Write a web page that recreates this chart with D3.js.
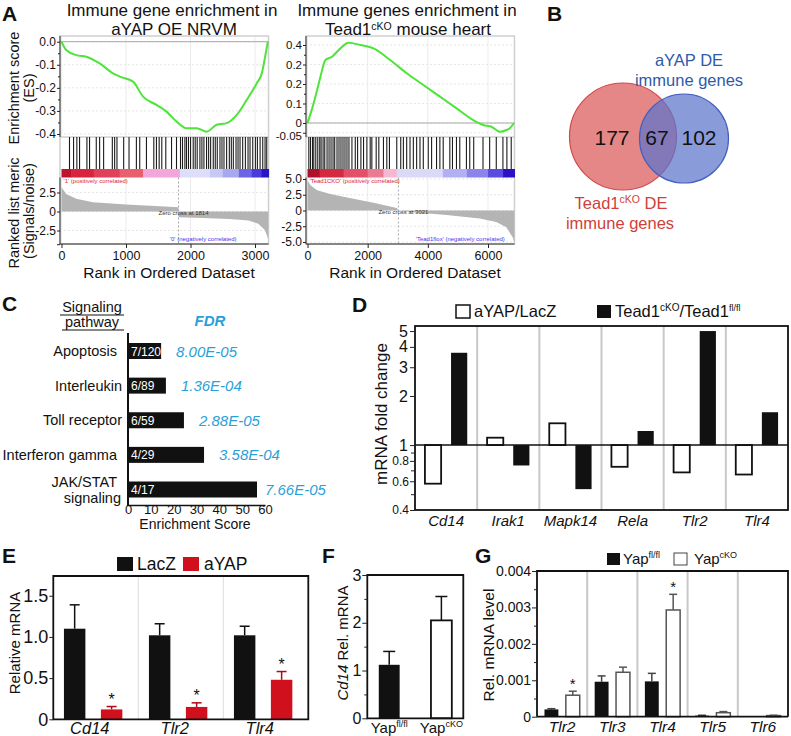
<!DOCTYPE html>
<html lang="en">
<head>
<meta charset="utf-8">
<title>Immune genes figure</title>
<script src="https://d3js.org/d3.v7.min.js"></script>
<style>
  html, body { margin: 0; padding: 0; background: #fff; }
  svg { display: block; }
  text { font-family: "Liberation Sans", Arial, sans-serif; fill: #111; }
</style>
</head>
<body>
<script>

// ---------- A: GSEA, aYAP OE NRVM ----------
var esLeftRank = [0,73,228,384,591,798,902,1109,1264,1472,1628,1783,1939,2095,2250,2406,2561,2717,2872,3028,3106,3157,3199];
var esLeftScore = [0,-0.036,-0.058,-0.065,-0.094,-0.137,-0.151,-0.173,-0.238,-0.274,-0.303,-0.346,-0.375,-0.375,-0.39,-0.36,-0.353,-0.317,-0.252,-0.18,-0.137,-0.065,0];
var hitsLeft = [124,187,238,280,394,435,539,591,653,788,824,860,964,1047,1161,1213,1317,1431,1472,1514,1555,1617,1706,1783,
  1845,1876,1913,1938,1969,2001,2042,2073,2104,2146,2177,2208,2249,2281,2312,2353,2384,2415,2457,2488,2519,2560,2602,2633,
  2664,2706,2737,2768,2809,2851,2892,2923,2965,3006,3037,3079,3120,3156,3182];
var metricLeftRank = [0,73,228,487,1005,1524,1814,1815,2200,2600,2900,3050,3150,3205];
var metricLeftValue = [3.2,2.3,1.67,1.22,0.92,0.7,0.57,-0.75,-0.85,-1.0,-1.2,-1.6,-2.4,-3.6];
var barLeftStart = [0,150,500,900,1264,1835,2300,2500,2750,2950,3100];
var barLeftColor = ["#c0142e","#d8243c","#e0405a","#e8606e","#f2a6da","#dedefa","#c8c8f6","#a8a8f0","#6a64e6","#4a3adc","#2a14c8"];

// ---------- A: GSEA, Tead1 cKO heart ----------
var esRightRank = [0,156,321,430,596,818,1036,1368,1755,2197,2748,3300,3851,4404,4957,5508,5838,6115,6391,6612,6722,6864];
var esRightScore = [0,0.075,0.17,0.237,0.323,0.34,0.374,0.412,0.4,0.383,0.323,0.255,0.195,0.135,0.075,0.015,-0.01,-0.019,-0.045,-0.036,-0.027,0];
var hitsRight = [44,99,165,209,275,341,407,452,518,573,650,716,782,849,904,981,1047,1113,1180,1246,1312,1378,1477,1588,1665,
  1775,1863,1974,2084,2139,2283,2371,2525,2636,2724,2967,3099,3187,3297,3408,3518,3628,3739,3849,4014,4125,4290,4400,4511,
  4731,4819,4952,5062,5283,5393,5525,5834,6055,6275,6496,6628,6772];
var metricRightRank = [0,99,320,761,1314,2195,2968,3021,3520,4623,5725,6278,6609,6830,6875];
var metricRightValue = [4.8,4.0,3.2,2.6,2.07,1.23,0.4,0,-0.27,-0.72,-1.27,-1.83,-2.67,-4.33,-5.2];
var barRightStart = [0,400,1200,2000,2525,2967,4500,5300,6000,6500];
var barRightColor = ["#b0102a","#d42a40","#e4506a","#ec7a90","#f6b8d0","#dadaf8","#b0b0f2","#8a84ec","#5a4ce0","#2c10c4"];

// ---------- B: Venn ----------
var vennOnlyTead = 177, vennBoth = 67, vennOnlyYap = 102;

// ---------- C: pathways ----------
var cTerms = ["Apoptosis","Interleukin","Toll receptor","Interferon gamma","JAK/STAT signaling"];
var cScore = [14.5, 16.6, 24.5, 33.3, 56.5];
var cRatio = ["7/120","6/89","6/59","4/29","4/17"];
var cFdr = ["8.00E-05","1.36E-04","2.88E-05","3.58E-04","7.66E-05"];
var cTicks = [0,10,20,30,40,50,60];

// ---------- D: fold change ----------
var dCats = ["Cd14","Irak1","Mapk14","Rela","Tlr2","Tlr4"];
var dAyap = [0.58, 1.11, 1.36, 0.736, 0.68, 0.66];
var dTead = [3.68, 0.75, 0.537, 1.22, 5.0, 1.59];
var dMajor = [5,4,3,2,1];
var dSmall = [0.8,0.6,0.4];
var dMinor = [0.9,0.7,0.5];

// ---------- E ----------
var eCats = ["Cd14","Tlr2","Tlr4"];
var eLacZ = [1.10, 1.02, 1.02];
var eLacZErr = [0.29, 0.14, 0.11];
var eAyap = [0.12, 0.15, 0.48];
var eAyapErr = [0.035, 0.05, 0.1];
var eTicks = [0, 0.5, 1.0, 1.5];
var eTickLabels = ["0","0.5","1.0","1.5"];

// ---------- F ----------
var fVals = [1.12, 2.05];
var fErr = [0.28, 0.5];
var fTicks = [0,1,2,3];

// ---------- G ----------
var gCats = ["Tlr2","Tlr3","Tlr4","Tlr5","Tlr6"];
var gFl = [0.00020, 0.00096, 0.00097, 0.00003, 0.00001];
var gFlErr = [0.00002, 0.00016, 0.00022, 0.00001, 0];
var gCko = [0.00059, 0.00122, 0.00293, 0.00011, 0.00003];
var gCkoErr = [0.00011, 0.00014, 0.00043, 0.00003, 0.00001];
var gStar = [true, false, true, false, false];
var gTicks = [0, 0.001, 0.002, 0.003, 0.004];

var svg = d3.select("body").append("svg").attr("width", 791).attr("height", 736);

function txt(x, y, s, size, opts) {
  opts = opts || {};
  return svg.append("text").attr("x", x).attr("y", y).text(s)
    .attr("font-size", size)
    .attr("text-anchor", opts.anchor || "start")
    .attr("font-weight", opts.bold ? "bold" : null)
    .attr("font-style", opts.italic ? "italic" : null)
    .style("fill", opts.fill || "#111");
}

function styleAxis(g, size) {
  g.select(".domain").remove();
  g.selectAll("line").attr("stroke", "#222");
  g.selectAll("text").attr("font-size", size).style("fill", "#111")
    .attr("font-family", '"Liberation Sans", Arial, sans-serif');
}

// panel letters
[["A",2,21],["B",547,21],["C",2,311],["D",352,312],["E",2,563],["F",322,563],["G",475,563]].forEach(function(p) {
  txt(p[1], p[2], p[0], 21, {bold: true});
});

// ================= A =================
var topY = 36, esBot = 137, hitBot = 169, barBot = 177.5, botY = 244;

function drawGsea(c) {
  var x = d3.scaleLinear().domain([0, c.tickMax]).range([c.x0, c.xTickMax]);
  var xEnd = x(c.maxRank);
  var axisX = c.x0 - 1.5;
  var yEs = d3.scaleLinear().domain(c.esDomain).range(c.esRange);
  var yM = d3.scaleLinear().domain(c.mDomain).range(c.mRange);
  var g = svg.append("g");

  [[topY, esBot], [barBot, botY]].forEach(function(r) {
    g.selectAll(null).data(c.xTicks).enter().append("line")
      .attr("x1", d => x(d)).attr("x2", d => x(d))
      .attr("y1", r[0]).attr("y2", r[1]).attr("stroke", "#ebebeb");
  });
  g.selectAll(null).data(c.esTicks).enter().append("line")
    .attr("x1", axisX).attr("x2", xEnd).attr("y1", d => yEs(d)).attr("y2", d => yEs(d))
    .attr("stroke", "#e6e6e6").attr("stroke-dasharray", "2,2");
  g.selectAll(null).data(c.mTicks).enter().append("line")
    .attr("x1", axisX).attr("x2", xEnd).attr("y1", d => yM(d)).attr("y2", d => yM(d))
    .attr("stroke", "#e6e6e6").attr("stroke-dasharray", "2,2");

  g.append("rect").attr("x", axisX).attr("y", topY).attr("width", xEnd - axisX).attr("height", botY - topY)
    .attr("fill", "none").attr("stroke", "#cfcfcf").attr("stroke-width", 1.5);
  g.append("line").attr("x1", axisX).attr("x2", xEnd).attr("y1", esBot).attr("y2", esBot).attr("stroke", "#b8b8b8");
  g.append("line").attr("x1", axisX).attr("x2", xEnd).attr("y1", yEs(0)).attr("y2", yEs(0)).attr("stroke", "#a8a8a8");

  g.selectAll(null).data(c.barStart).enter().append("rect")
    .attr("x", d => x(d))
    .attr("width", (d, i) => x(i < c.barStart.length - 1 ? c.barStart[i + 1] : c.maxRank) - x(d) + 0.5)
    .attr("y", hitBot).attr("height", barBot - hitBot)
    .attr("fill", (d, i) => c.barColor[i]);

  g.selectAll(null).data(c.hits).enter().append("line")
    .attr("x1", d => x(d)).attr("x2", d => x(d)).attr("y1", esBot).attr("y2", hitBot)
    .attr("stroke", "#1c1c1c").attr("stroke-width", 1.1);

  var area = d3.area().x((d, i) => x(c.mRank[i])).y0(yM(0)).y1(d => yM(d));
  g.append("path").attr("d", area(c.mValue)).attr("fill", "#b4b4b4");

  g.append("line").attr("x1", x(c.zero)).attr("x2", x(c.zero)).attr("y1", barBot).attr("y2", botY)
    .attr("stroke", "#aaa").attr("stroke-dasharray", "2,2");

  var line = d3.line().x((d, i) => x(c.esRank[i])).y(d => yEs(d)).curve(d3.curveMonotoneX);
  g.append("path").attr("d", line(c.esScore)).attr("fill", "none")
    .attr("stroke", "#4ee43a").attr("stroke-width", 2);

  // axes
  g.append("line").attr("x1", axisX).attr("x2", axisX).attr("y1", topY).attr("y2", esBot).attr("stroke", "#333");
  g.append("line").attr("x1", axisX).attr("x2", axisX).attr("y1", barBot).attr("y2", botY).attr("stroke", "#333");
  g.append("line").attr("x1", axisX).attr("x2", xEnd).attr("y1", botY).attr("y2", botY).attr("stroke", "#333");

  var ax = g.append("g").attr("transform", "translate(" + axisX + ",0)")
    .call(d3.axisLeft(yEs).tickValues(c.esTicks).tickFormat((d, i) => c.esLabels[i]).tickSize(3).tickPadding(1));
  styleAxis(ax, c.esFont);
  ax.selectAll("text").filter(d => d < 0 && c.nudgeLast && d === c.esTicks[c.esTicks.length - 1]).attr("dy", "0.62em");
  var axm = g.append("g").attr("transform", "translate(" + axisX + ",0)")
    .call(d3.axisLeft(yEs).tickValues(c.esMinor).tickFormat("").tickSize(2));
  styleAxis(axm, 1);
  var ay = g.append("g").attr("transform", "translate(" + axisX + ",0)")
    .call(d3.axisLeft(yM).tickValues(c.mTicks).tickFormat((d, i) => c.mLabels[i]).tickSize(3).tickPadding(1));
  styleAxis(ay, 12);
  var axb = g.append("g").attr("transform", "translate(0," + botY + ")")
    .call(d3.axisBottom(x).tickValues(c.xTicks).tickFormat(d3.format("d")).tickSize(4).tickPadding(3));
  styleAxis(axb, 12.5);

  g.append("text").attr("x", x(0) + 2).attr("y", hitBot + 14).text(c.posText)
    .attr("font-size", 6).style("fill", "#e0203a");
  g.append("text").attr("x", x(c.zero) - 20).attr("y", yM(0) + 3).text("Zero cross at " + c.zero)
    .attr("font-size", 6).style("fill", "#333");
  g.append("text").attr("x", x(c.negX)).attr("y", botY - 3).text(c.negText)
    .attr("font-size", 6).style("fill", "#5030e8");

  txt((x(0) + xEnd) / 2 + 4, 278, "Rank in Ordered Dataset", 15.5, {anchor: "middle"});
}

drawGsea({
  tickMax: 3000, x0: 61.5, xTickMax: 255, maxRank: 3210, xTicks: [0,1000,2000,3000],
  esDomain: [-0.4, 0], esRange: [134, 41.7], esTicks: [0,-0.1,-0.2,-0.3,-0.4],
  esLabels: ["0.0","-0.1","-0.2","-0.3","-0.4"], esMinor: [-0.05,-0.15,-0.25,-0.35], esFont: 12, nudgeLast: false,
  mDomain: [-2.5, 2.5], mRange: [230.5, 192.5], mTicks: [2.5,0,-2.5,-4.3], mLabels: ["2.5","0","-2.5",""],
  esRank: esLeftRank, esScore: esLeftScore, hits: hitsLeft, mRank: metricLeftRank, mValue: metricLeftValue,
  barStart: barLeftStart, barColor: barLeftColor, zero: 1814, negX: 1680,
  posText: "'1' (positively correlated)", negText: "'0' (negatively correlated)"
});

drawGsea({
  tickMax: 6000, x0: 307.5, xTickMax: 488, maxRank: 6880, xTicks: [0,2000,4000,6000],
  esDomain: [-0.05, 0.4], esRange: [132.75, 45], esTicks: [0.4,0.3,0.2,0.1,0,-0.05],
  esLabels: ["0.4","0.2","0.2","0.1","0","-0.05"], esMinor: [0.35,0.25,0.15,0.05], esFont: 11.5, nudgeLast: true,
  mDomain: [-5, 5], mRange: [242, 179], mTicks: [5,2.5,0,-2.5,-5], mLabels: ["5.0","2.5","0","-2.5","-5.0"],
  esRank: esRightRank, esScore: esRightScore, hits: hitsRight, mRank: metricRightRank, mValue: metricRightValue,
  barStart: barRightStart, barColor: barRightColor, zero: 3021, negX: 3600,
  posText: "'Tead1CKO' (positively correlated)", negText: "'Tead1flox' (negatively correlated)"
});

txt(172, 16, "Immune gene enrichment in", 17, {anchor: "middle"});
txt(174, 35, "aYAP OE NRVM", 17, {anchor: "middle"});
txt(407, 16, "Immune genes enrichment in", 17, {anchor: "middle"});
var t2 = svg.append("text").attr("x", 408).attr("y", 35).attr("text-anchor", "middle").attr("font-size", 17);
t2.append("tspan").text("Tead1");
t2.append("tspan").text("cKO").attr("font-size", 10.5).attr("dy", -5.5);
t2.append("tspan").text(" mouse heart").attr("dy", 5.5);

function vtext(x, y, s, size, opts) {
  var t = txt(0, 0, s, size, Object.assign({anchor: "middle"}, opts || {}));
  t.attr("transform", "translate(" + x + "," + y + ") rotate(-90)");
  return t;
}
vtext(19, 88, "Enrichment score", 14.5);
vtext(34, 88, "(ES)", 14.5);
vtext(19, 213, "Ranked list meric", 14.5);
vtext(34, 211, "(Signals/noise)", 14.5);

// ================= B =================
var rVenn = d3.scaleSqrt().domain([0, vennOnlyTead + vennBoth]).range([0, 53.5]);
svg.append("circle").attr("cx", 623).attr("cy", 136.5).attr("r", rVenn(vennOnlyTead + vennBoth))
  .attr("fill", "#e06c6c").attr("fill-opacity", 0.82).attr("stroke", "#d04848").attr("stroke-width", 1.2);
svg.append("circle").attr("cx", 684).attr("cy", 138.5).attr("r", rVenn(vennOnlyYap + vennBoth))
  .attr("fill", "#5d74cc").attr("fill-opacity", 0.72).attr("stroke", "#4560c0").attr("stroke-width", 1.2);
txt(612, 144.5, vennOnlyTead, 21, {anchor: "middle"});
txt(657, 144.5, vennBoth, 21, {anchor: "middle"});
txt(699, 144.5, vennOnlyYap, 21, {anchor: "middle"});
txt(689, 66, "aYAP DE", 16.5, {anchor: "middle", fill: "#2f5aa8"});
txt(689, 86, "immune genes", 16.5, {anchor: "middle", fill: "#2f5aa8"});
var tb = svg.append("text").attr("x", 621).attr("y", 209).attr("text-anchor", "middle").attr("font-size", 16.5).style("fill", "#d0403a");
tb.append("tspan").text("Tead1").style("fill", "#d0403a");
tb.append("tspan").text("cKO").attr("font-size", 10.5).attr("dy", -6).style("fill", "#d0403a");
tb.append("tspan").text(" DE").attr("dy", 6).style("fill", "#d0403a");
txt(620, 229, "immune genes", 16.5, {anchor: "middle", fill: "#d0403a"});

// ================= C =================
var xC = d3.scaleLinear().domain([0, 60]).range([128, 265]);
var yC = d3.scalePoint().domain(cTerms).range([351, 489.5]);
svg.selectAll(".cbar").data(cScore).enter().append("rect")
  .attr("x", xC(0)).attr("y", (d, i) => yC(cTerms[i]) - 8)
  .attr("width", d => xC(d) - xC(0)).attr("height", 16).attr("fill", "#111");
cRatio.forEach(function(s, i) { txt(xC(0) + 3, yC(cTerms[i]) + 4.5, s, 12, {fill: "#fff"}); });
cFdr.forEach(function(s, i) { txt(xC(cScore[i]) + (i === 4 ? 8 : 15), yC(cTerms[i]) + 5.5, s, 15, {italic: true, fill: "#2a9fd8"}); });
cTerms.forEach(function(s, i) {
  if (s.indexOf("JAK") === 0) {
    txt(117, yC(s) - 3, "JAK/STAT", 14.5, {anchor: "end"});
    txt(121, yC(s) + 13, "signaling", 14.5, {anchor: "end"});
  } else {
    txt(s === "Interleukin" || s === "Toll receptor" ? 122 : 117, yC(s) + 5, s, 14.5, {anchor: "end"});
  }
});
svg.append("line").attr("x1", xC(0)).attr("x2", xC(0)).attr("y1", 333).attr("y2", 506).attr("stroke", "#111").attr("stroke-width", 2);
var cax = svg.append("g").attr("transform", "translate(0,505)")
  .call(d3.axisBottom(xC).tickValues(cTicks).tickSize(0).tickPadding(0));
cax.select(".domain").attr("stroke", "#111").attr("stroke-width", 1.5);
cax.selectAll("text").attr("font-size", 13).style("fill", "#111");
txt(195, 529, "Enrichment Score", 14, {anchor: "middle"});
txt(92, 312, "Signaling", 14.5, {anchor: "middle"});
txt(92, 327, "pathway", 14.5, {anchor: "middle"});
svg.append("line").attr("x1", 60).attr("x2", 124).attr("y1", 315).attr("y2", 315).attr("stroke", "#111");
svg.append("line").attr("x1", 62).attr("x2", 124).attr("y1", 330).attr("y2", 330).attr("stroke", "#111");
txt(210, 326, "FDR", 15, {anchor: "middle", bold: true, italic: true, fill: "#2a9fd8"});

// ================= D =================
var dLeft = 415, dRight = 788, dTop = 326, dBot = 510;
var xD = d3.scaleBand().domain(dCats).range([dLeft, dRight]);
var xDi = d3.scaleBand().domain(["ayap","tead"]).range([0, xD.bandwidth()]).padding(0.38);
var yD = d3.scaleLog().domain([0.4, 5.37]).range([dBot, dTop]);
dCats.slice(1).forEach(function(c) {
  svg.append("line").attr("x1", xD(c)).attr("x2", xD(c)).attr("y1", dTop).attr("y2", dBot)
    .attr("stroke", "#c8c8c8").attr("stroke-width", 2);
});
svg.selectAll(".dA").data(dAyap).enter().append("rect")
  .attr("x", (d, i) => xD(dCats[i]) + xDi("ayap"))
  .attr("y", d => yD(Math.max(d, 1))).attr("width", xDi.bandwidth())
  .attr("height", d => Math.abs(yD(d) - yD(1)))
  .attr("fill", "#fff").attr("stroke", "#111").attr("stroke-width", 1.8);
svg.selectAll(".dT").data(dTead).enter().append("rect")
  .attr("x", (d, i) => xD(dCats[i]) + xDi("tead"))
  .attr("y", d => yD(Math.max(d, 1))).attr("width", xDi.bandwidth())
  .attr("height", d => Math.abs(yD(d) - yD(1)))
  .attr("fill", "#111");
svg.append("line").attr("x1", dLeft).attr("x2", dRight).attr("y1", yD(1)).attr("y2", yD(1)).attr("stroke", "#111").attr("stroke-width", 1.5);
svg.append("rect").attr("x", dLeft).attr("y", dTop).attr("width", dRight - dLeft).attr("height", dBot - dTop)
  .attr("fill", "none").attr("stroke", "#111").attr("stroke-width", 1.8);
var dax = svg.append("g").attr("transform", "translate(" + dLeft + ",0)")
  .call(d3.axisLeft(yD).tickValues(dMajor).tickFormat(d3.format("d")).tickSize(5).tickPadding(2));
styleAxis(dax, 16);
var dax2 = svg.append("g").attr("transform", "translate(" + dLeft + ",0)")
  .call(d3.axisLeft(yD).tickValues(dSmall).tickFormat(d3.format(".1f")).tickSize(5).tickPadding(1));
styleAxis(dax2, 12);
var dax3 = svg.append("g").attr("transform", "translate(" + dLeft + ",0)")
  .call(d3.axisLeft(yD).tickValues(dMinor).tickFormat("").tickSize(4));
styleAxis(dax3, 1);
dCats.forEach(function(c) { txt(xD(c) + xD.bandwidth() / 2, 526, c, 15, {anchor: "middle", italic: true}); });
vtext(387, 414, "mRNA  fold change", 17);
svg.append("rect").attr("x", 456).attr("y", 305).attr("width", 14).attr("height", 13).attr("fill", "#fff").attr("stroke", "#111").attr("stroke-width", 1.5);
txt(474, 317, "aYAP/LacZ", 16.5);
svg.append("rect").attr("x", 597).attr("y", 305).attr("width", 14).attr("height", 13).attr("fill", "#111");
var td = svg.append("text").attr("x", 615).attr("y", 317).attr("font-size", 16.5);
td.append("tspan").text("Tead1");
td.append("tspan").text("cKO").attr("font-size", 10).attr("dy", -6);
td.append("tspan").text("/Tead1").attr("dy", 6);
td.append("tspan").text("fl/fl").attr("font-size", 9).attr("dy", -6);

function errBar(x, yTop, yErr, color, w) {
  svg.append("line").attr("x1", x).attr("x2", x).attr("y1", yTop).attr("y2", yErr).attr("stroke", color).attr("stroke-width", 1.5);
  svg.append("line").attr("x1", x - w).attr("x2", x + w).attr("y1", yErr).attr("y2", yErr).attr("stroke", color).attr("stroke-width", 1.5);
}

// ================= E =================
var eLeft = 53.3, eRight = 308.3, eTop = 576, eBot = 719.3;
var xE = d3.scaleBand().domain(eCats).range([eLeft, eRight]);
var xEi = d3.scaleBand().domain(["LacZ","aYAP"]).range([0, xE.bandwidth()]).paddingInner(0.42).paddingOuter(0.36).align(0.4);
var yE = d3.scaleLinear().domain([0, 1.74]).range([eBot, eTop]);
eCats.slice(1).forEach(function(c) {
  svg.append("line").attr("x1", xE(c)).attr("x2", xE(c)).attr("y1", eTop).attr("y2", eBot).attr("stroke", "#dcdcdc").attr("stroke-width", 1);
});
eCats.forEach(function(c, i) {
  var xl = xE(c) + xEi("LacZ"), xa = xE(c) + xEi("aYAP"), bw = xEi.bandwidth();
  errBar(xl + bw / 2, yE(eLacZ[i]), yE(eLacZ[i] + eLacZErr[i]), "#111", 5);
  errBar(xa + bw / 2, yE(eAyap[i]), yE(eAyap[i] + eAyapErr[i]), "#b00818", 5);
  svg.append("rect").attr("x", xl).attr("y", yE(eLacZ[i])).attr("width", bw).attr("height", yE(0) - yE(eLacZ[i])).attr("fill", "#111");
  svg.append("rect").attr("x", xa).attr("y", yE(eAyap[i])).attr("width", bw).attr("height", yE(0) - yE(eAyap[i])).attr("fill", "#d0101c");
  txt(xa + bw / 2, yE(eAyap[i] + eAyapErr[i]) - 2, "*", 16, {anchor: "middle"});
  txt(xE(c) + xE.bandwidth() / 2 - 6, 734, c, 16.5, {anchor: "middle", italic: true});
});
svg.append("path").attr("d", "M" + eLeft + "," + eTop + "H" + eRight + "V" + eBot + "H" + eLeft + "Z")
  .attr("fill", "none").attr("stroke", "#111").attr("stroke-width", 1.8);
var eax = svg.append("g").attr("transform", "translate(" + eLeft + ",0)")
  .call(d3.axisLeft(yE).tickValues(eTicks).tickFormat((d, i) => eTickLabels[i]).tickSize(4).tickPadding(1));
styleAxis(eax, 18);
vtext(20, 643, "Relative mRNA", 15);
svg.append("rect").attr("x", 117).attr("y", 557).attr("width", 16).attr("height", 14).attr("fill", "#111");
txt(137, 570, "LacZ", 17.5);
svg.append("rect").attr("x", 183).attr("y", 557).attr("width", 16).attr("height", 14).attr("fill", "#d0101c");
txt(204, 570, "aYAP", 17.5);

// ================= F =================
var fLeft = 367.3, fRight = 463.3, fTop = 575, fBot = 718.3;
var xF = d3.scaleBand().domain(["fl/fl","cKO"]).range([fLeft, fRight]).paddingInner(0.6).paddingOuter(0.22);
var yF = d3.scaleLinear().domain([0, 3]).range([fBot, fTop]);
["fl/fl","cKO"].forEach(function(c, i) {
  var bx = xF(c), bw = xF.bandwidth();
  errBar(bx + bw / 2, yF(fVals[i]), yF(fVals[i] + fErr[i]), "#111", 6);
  svg.append("rect").attr("x", bx).attr("y", yF(fVals[i])).attr("width", bw).attr("height", yF(0) - yF(fVals[i]))
    .attr("fill", i === 0 ? "#111" : "#fff").attr("stroke", "#111").attr("stroke-width", i === 0 ? 0 : 1.8);
  var t = svg.append("text").attr("x", bx + bw / 2).attr("y", 733).attr("text-anchor", "middle").attr("font-size", 15);
  t.append("tspan").text("Yap");
  t.append("tspan").text(c).attr("font-size", 9).attr("dy", -6);
});
svg.append("path").attr("d", "M" + fLeft + "," + fTop + "H" + fRight + "V" + fBot + "H" + fLeft + "Z")
  .attr("fill", "none").attr("stroke", "#111").attr("stroke-width", 1.8);
var fax = svg.append("g").attr("transform", "translate(" + fLeft + ",0)")
  .call(d3.axisLeft(yF).tickValues(fTicks).tickFormat(d3.format("d")).tickSize(5).tickPadding(1));
styleAxis(fax, 16);
var fax2 = svg.append("g").attr("transform", "translate(" + fLeft + ",0)")
  .call(d3.axisLeft(yF).tickValues([0.5,1.5,2.5]).tickFormat("").tickSize(3));
styleAxis(fax2, 1);
var tf = svg.append("text").attr("text-anchor", "middle").attr("font-size", 15)
  .attr("transform", "translate(348,643) rotate(-90)");
tf.append("tspan").text("Cd14").attr("font-style", "italic");
tf.append("tspan").text(" Rel. mRNA");

// ================= G =================
var gLeft = 537, gRight = 788, gTop = 571, gBot = 716.7;
var xG = d3.scaleBand().domain(gCats).range([gLeft, gRight]);
var xGi = d3.scaleBand().domain(["fl","cko"]).range([0, xG.bandwidth()]).padding(0.35);
var yG = d3.scaleLinear().domain([0, 0.004]).range([gBot, gTop]);
gCats.slice(1).forEach(function(c) {
  svg.append("line").attr("x1", xG(c)).attr("x2", xG(c)).attr("y1", gTop).attr("y2", gBot).attr("stroke", "#c8c8c8").attr("stroke-width", 2);
});
gCats.forEach(function(c, i) {
  var xf = xG(c) + xGi("fl"), xk = xG(c) + xGi("cko"), bw = xGi.bandwidth();
  if (gFlErr[i] > 0) errBar(xf + bw / 2, yG(gFl[i]), yG(gFl[i] + gFlErr[i]), "#444", 4);
  errBar(xk + bw / 2, yG(gCko[i]), yG(gCko[i] + gCkoErr[i]), "#555", 4);
  svg.append("rect").attr("x", xf).attr("y", yG(gFl[i])).attr("width", bw).attr("height", yG(0) - yG(gFl[i])).attr("fill", "#111");
  svg.append("rect").attr("x", xk).attr("y", yG(gCko[i])).attr("width", bw).attr("height", yG(0) - yG(gCko[i]))
    .attr("fill", "#fff").attr("stroke", "#555").attr("stroke-width", 1.5);
  if (gStar[i]) txt(xk + bw / 2, yG(gCko[i] + gCkoErr[i]) - 2, "*", 15, {anchor: "middle"});
  txt(xG(c) + xG.bandwidth() / 2, 732, c, 15.5, {anchor: "middle", italic: true});
});
svg.append("line").attr("x1", gLeft).attr("x2", gRight).attr("y1", gBot).attr("y2", gBot).attr("stroke", "#111").attr("stroke-width", 1.8);
svg.append("path").attr("d", "M" + gLeft + "," + gBot + "V" + gTop + "H" + gRight + "V" + gBot)
  .attr("fill", "none").attr("stroke", "#111").attr("stroke-width", 1.8);
var gax = svg.append("g").attr("transform", "translate(" + gLeft + ",0)")
  .call(d3.axisLeft(yG).tickValues(gTicks).tickFormat((d) => d === 0 ? "0" : d3.format(".3f")(d)).tickSize(5).tickPadding(1));
styleAxis(gax, 14);
var gax2 = svg.append("g").attr("transform", "translate(" + gLeft + ",0)")
  .call(d3.axisLeft(yG).tickValues([0.0005,0.0015,0.0025,0.0035]).tickFormat("").tickSize(3));
styleAxis(gax2, 1);
vtext(494, 645, "Rel. mRNA level", 15.5);
svg.append("rect").attr("x", 607).attr("y", 553).attr("width", 13).attr("height", 12).attr("fill", "#111");
var tg1 = svg.append("text").attr("x", 623).attr("y", 564).attr("font-size", 15);
tg1.append("tspan").text("Yap");
tg1.append("tspan").text("fl/fl").attr("font-size", 9).attr("dy", -6);
svg.append("rect").attr("x", 674).attr("y", 553).attr("width", 13).attr("height", 12).attr("fill", "#fff").attr("stroke", "#444").attr("stroke-width", 1);
var tg2 = svg.append("text").attr("x", 694).attr("y", 564).attr("font-size", 15);
tg2.append("tspan").text("Yap");
tg2.append("tspan").text("cKO").attr("font-size", 9).attr("dy", -6);

</script>
</body>
</html>
